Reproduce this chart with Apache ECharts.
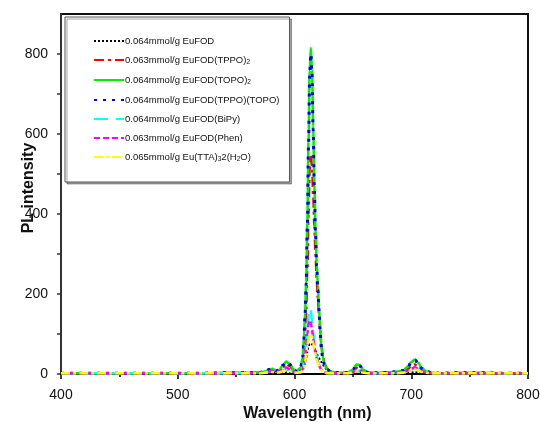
<!DOCTYPE html>
<html>
<head>
<meta charset="utf-8">
<script src="https://cdn.jsdelivr.net/npm/echarts@6/dist/echarts.min.js"></script>
<style>html,body{margin:0;padding:0;background:#fff}#c{width:540px;height:422px}</style>
</head>
<body>
<div id="c"></div>
<script>
// Wavelengths (nm)
const wavelengths = [400,420,440,460,480,500,520,540,560,
  570,575,578,581,584,587,590,593,596,599,
  602,605,607,608,609,610,611,612,613,614,
  615,616,617,618,619,620,621,622,623,624,
  626,628,631,635,640,645,650,653,656,659,
  663,670,680,688,693,697,700,703,706,709,
  713,718,725,740,760,780,800];

const euFOD = [1,1,1,1,1,1,1,1,1,
  1,2,2,3,2,2,3,4,3,2,
  2,5,10,18,28,40,55,68,75,77,
  74,70,64,58,52,46,40,35,30,25,
  16,10,5,3,2,2,2,3,3,2,
  1,1,1,2,2,3,4,5,4,3,
  2,1,1,1,1,1,1];
const euFOD_TPPO2 = [2,2,2,2,2,2,2,2,3,
  3,5,8,10,7,8,18,26,20,10,
  6,10,25,55,100,160,260,400,510,546,
  520,450,370,300,240,190,150,110,75,50,
  25,12,6,3,2,3,8,16,14,6,
  3,2,3,4,6,12,20,24,18,10,
  4,2,2,2,2,2,2];
const euFOD_TOPO2 = [2,2,2,2,2,2,2,3,3,
  4,6,10,13,8,10,22,31,25,12,
  8,15,40,90,150,230,380,580,760,815,
  760,620,470,360,280,220,170,110,70,45,
  22,12,6,4,3,4,10,24,22,10,
  4,3,4,6,9,18,30,36,28,15,
  6,3,2,3,3,2,2];
const euFOD_TPPO_TOPO = [2,2,2,2,2,2,2,3,3,
  4,6,11,14,8,10,22,30,24,11,
  7,14,38,85,145,225,370,570,745,800,
  750,610,460,350,270,210,160,105,65,42,
  20,11,6,4,3,4,10,23,20,9,
  4,3,4,6,9,17,29,35,27,14,
  6,3,2,3,3,2,2];
const euFOD_BiPy = [2,2,2,2,2,2,2,2,2,
  3,4,5,6,4,5,9,12,9,5,
  4,6,12,28,50,80,115,150,165,158,
  135,105,80,60,45,33,24,16,10,6,
  4,3,2,2,2,2,4,8,7,3,
  2,2,2,3,4,7,11,14,11,6,
  3,2,2,2,2,2,2];
const euFOD_Phen = [2,2,2,2,2,2,2,2,2,
  3,4,6,8,5,6,11,16,12,6,
  4,6,12,25,45,70,100,125,135,128,
  110,88,68,52,40,30,22,15,10,6,
  4,3,2,2,2,3,5,10,9,4,
  2,2,2,3,4,8,13,17,13,7,
  3,2,2,2,2,2,2];
const euTTA = [2,2,2,2,2,2,2,2,2,
  2,3,4,5,4,4,7,9,7,4,
  3,4,8,16,30,48,70,88,98,100,
  92,78,62,48,36,27,20,14,9,6,
  4,2,2,2,2,2,3,6,5,3,
  2,2,2,2,3,5,8,11,9,5,
  3,2,2,2,2,2,2];

const seriesNames = [
  '0.064mmol/g EuFOD',
  '0.063mmol/g EuFOD(TPPO)2',
  '0.064mmol/g EuFOD(TOPO)2',
  '0.064mmol/g EuFOD(TPPO)(TOPO)',
  '0.064mmol/g EuFOD(BiPy)',
  '0.063mmol/g EuFOD(Phen)',
  '0.065mmol/g Eu(TTA)32(H2O)'
];
const legendTexts = [
  '{t|0.064mmol/g EuFOD}',
  '{t|0.063mmol/g EuFOD(TPPO)}{s|2}',
  '{t|0.064mmol/g EuFOD(TOPO)}{s|2}',
  '{t|0.064mmol/g EuFOD(TPPO)(TOPO)}',
  '{t|0.064mmol/g EuFOD(BiPy)}',
  '{t|0.063mmol/g EuFOD(Phen)}',
  '{t|0.065mmol/g Eu(TTA)}{s|3}{t|2(H}{s|2}{t|O)}'
];
const seriesValues = [euFOD, euFOD_TPPO2, euFOD_TOPO2, euFOD_TPPO_TOPO, euFOD_BiPy, euFOD_Phen, euTTA];
const colors = ['#000000','#ff0000','#00ee00','#0000ff','#00ffff','#ff00ff','#ffff00'];
const dashes = [[2,2],[10,4,3,4],'solid',[3,6],[14,8],[6,3],[9,3,3,3]];
const widths = [2,2.5,2.5,3,2.5,2.5,2.5];
const xTicks = [400,500,600,700,800];
const yTicks = [0,200,400,600,800];

const chart = echarts.init(document.getElementById('c'));
const FONT = 'Liberation Sans, Arial, sans-serif';

chart.setOption({
  animation: false,
  backgroundColor: '#fff',
  grid: {left: 61, right: 12, top: 14, bottom: 48, containLabel: false, outerBoundsMode: 'none',
    show: true, borderColor: '#111', borderWidth: 2, backgroundColor: 'transparent'},
  legend: {
    orient: 'vertical', left: 65, top: 17,
    padding: [19, 10, 19, 28],
    borderColor: '#555', borderWidth: 1,
    shadowColor: 'rgba(0,0,0,0.35)', shadowOffsetX: 2, shadowOffsetY: 2, shadowBlur: 0,
    backgroundColor: '#fff',
    itemWidth: 30, itemHeight: 10, itemGap: 9,
    itemStyle: {opacity: 0},
    data: seriesNames,
    formatter: function (name) { return legendTexts[seriesNames.indexOf(name)]; },
    textStyle: {
      padding: [0,0,0,-4],
      rich: {
        t: {fontFamily: FONT, fontSize: 9.5, color: '#111', lineHeight: 12},
        s: {fontFamily: FONT, fontSize: 6.5, color: '#111', lineHeight: 6, verticalAlign: 'bottom', padding: [4,0,0,0]}
      }
    }
  },
  xAxis: {
    type: 'value', min: 400, max: 800, interval: 100,
    name: 'Wavelength (nm)', nameLocation: 'middle', nameGap: 32, nameMoveOverlap: false,
    nameTextStyle: {fontFamily: FONT, fontSize: 16, fontWeight: 'bold', color: '#111', padding: [0,0,0,26]},
    axisLine: {show: true, onZero: false, lineStyle: {color: '#000', width: 2}},
    axisTick: {show: true, length: 5, lineStyle: {color: '#000', width: 1.5}},
    minorTick: {show: true, splitNumber: 2, length: 3, lineStyle: {color: '#000', width: 1.5}},
    axisLabel: {fontFamily: FONT, fontSize: 14, color: '#111', margin: 14},
    splitLine: {show: false}
  },
  yAxis: {
    type: 'value', min: 0, max: 900, interval: 100,
    name: 'PL intensity', nameLocation: 'middle', nameGap: 24, nameRotate: 90, nameMoveOverlap: false,
    nameTextStyle: {fontFamily: FONT, fontSize: 16, fontWeight: 'bold', color: '#111', padding: [0,0,0,12]},
    axisLine: {show: true, onZero: false, lineStyle: {color: '#333', width: 2}},
    axisTick: {show: true, length: 4, customValues: [0,100,200,300,400,500,600,700,800], lineStyle: {color: '#333', width: 1.5}},
    axisLabel: {fontFamily: FONT, fontSize: 14, color: '#111', margin: 13, customValues: yTicks,
      formatter: function (v) { return yTicks.indexOf(v) >= 0 ? String(v) : ''; }},
    splitLine: {show: false}
  },
  series: seriesNames.map(function (n, i) {
    return {
      name: n, type: 'line', showSymbol: false, symbol: 'none',
      smooth: 0.35, smoothMonotone: 'x',
      data: wavelengths.map(function (w, k) { return [w, seriesValues[i][k]]; }),
      lineStyle: {color: colors[i], width: widths[i], type: dashes[i]},
      itemStyle: {color: colors[i]},
      z: 2 + i
    };
  })
});
</script>
</body>
</html>
